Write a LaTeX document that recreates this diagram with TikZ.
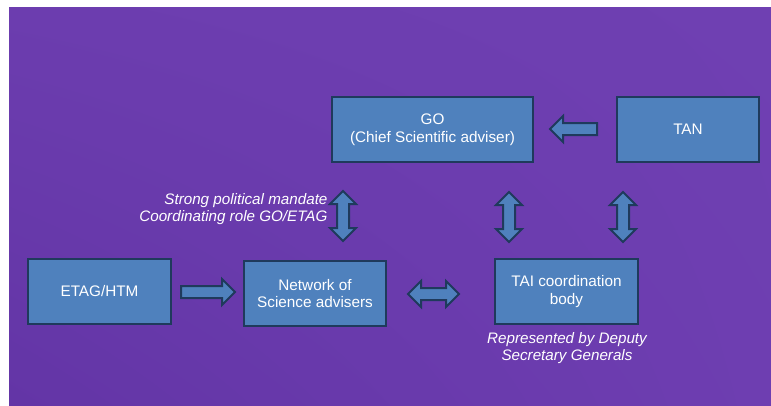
\documentclass[tikz,border=0pt]{standalone}
\usepackage{fontspec}
\setmainfont{Liberation Sans}
\usepackage{tikz}
\usetikzlibrary{shapes,shapes.arrows}
\usetikzlibrary{shadings}
\usetikzlibrary{calc}
\definecolor{boxfill}{HTML}{4F81BD}
\definecolor{boxline}{HTML}{1F3A5C}
\definecolor{bgtop}{HTML}{6F40B2}
\definecolor{bgtopleft}{HTML}{6C3DAF}
\definecolor{bgbottom}{HTML}{6E3EB1}
\definecolor{bgbottomleft}{HTML}{6335A6}
\tikzstyle{box}=[rectangle,fill=boxfill,draw=boxline,line width=2.3pt,text=white,align=center,minimum height=65pt,inner sep=2pt,font=\fontsize{15.3}{17.5}\selectfont]
\tikzstyle{onearrow}=[single arrow,fill=boxfill,draw=boxline,line width=2pt,inner sep=5pt,single arrow head extend=7pt,single arrow head indent=0pt]
\tikzstyle{twoarrow}=[double arrow,fill=boxfill,draw=boxline,line width=2pt,inner sep=5pt,double arrow head extend=7pt,double arrow head indent=0pt,minimum height=50pt]
\tikzstyle{note} = [text=white,font=\fontsize{15.2}{17.5}\selectfont\itshape]

\begin{document}
\begin{tikzpicture}[x=1pt,y=-1pt]

\useasboundingbox (0,0) rectangle (771,405);
\fill[white] (0,0) rectangle (771,405);
\shade[upper left=bgtopleft,upper right=bgtop,lower left=bgbottomleft,lower right=bgbottom] (9,7) rectangle (771,405);

% Boxes
    \foreach \pos/\name/\boxw/\txt in {{(432.5,129.5)/GO/201/{GO\\(Chief Scientific adviser)}},
        {(688,129.5)/TAN/142/{TAN}},
        {(99.5,291.5)/ETAG/143/{ETAG/HTM}},
        {(315,293.5)/NSA/142/{Network of\\Science advisers}},
        {(566.5,291.5)/TAI/143/{TAI coordination\\body}}}
        \node[box,minimum width=\boxw pt] (\name) at \pos {\txt};

% Block arrows
    \node[onearrow,minimum height=47pt,shape border rotate=180] (tan2go) at (576.5,129) {};
    \node[onearrow,minimum height=54pt] (etag2nsa) at (205,292) {};
    \node[twoarrow,minimum height=51pt] (nsa2tai) at (433.5,294) {};
    \foreach \pos/\name in {{(343,216)/go2nsa},{(509,217)/go2tai},{(623,217)/tan2tai}}
        \node[twoarrow,shape border rotate=90] (\name) at \pos {};

% Labels
\node[note,align=right,anchor=east] (mandate) at (331,209) {Strong political mandate\\Coordinating role GO/ETAG};
\node[note,align=center] (deputy) at (567,348) {Represented by Deputy\\Secretary Generals};

\end{tikzpicture}
\end{document}
